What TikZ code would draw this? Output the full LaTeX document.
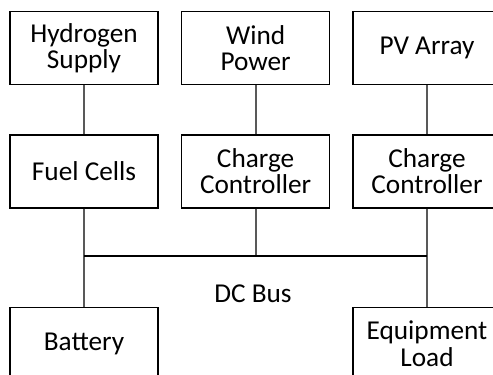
\documentclass[tikz,border=0pt]{standalone}
\usepackage{fontspec}
\setmainfont{Carlito}
\usetikzlibrary{positioning}

\begin{document}
\begin{tikzpicture}[
    block/.style={draw, line width=0.8pt, minimum width=3.7cm, minimum height=1.825cm,
                  inner sep=0pt, align=center, font=\fontsize{19.4}{18.6}\selectfont},
    link/.style={line width=1.3pt, black!65},
    bus/.style={line width=1.1pt, black}
]

    % --- FRAME ---
    \useasboundingbox (0,0) rectangle (12.325,-9.35);
    \clip (0,0) rectangle (12.325,-9.35);

    % --- SOURCES ---
    \node[block] (H2) at (2.1, -1.21) {Hydrogen\\Supply};
    \node[block] (Wind) at (6.39, -1.21) {Wind\\Power};
    \node[block] (PV) at (10.675, -1.21) {PV Array};

    % --- CONVERTERS ---
    \node[block, below=1.225cm of H2] (FC) {Fuel Cells};
    \node[block, below=1.225cm of Wind] (CCW) {Charge\\Controller};
    \node[block, below=1.225cm of PV] (CCP) {Charge\\Controller};

    % --- STORAGE AND LOAD ---
    \node[block, below=2.45cm of FC] (Bat) {Battery};
    \node[block, below=2.45cm of CCP] (Load) {Equipment\\Load};

    % --- DC BUS ---
    \coordinate (busL) at (FC.south |- 0,-6.4);
    \coordinate (busM) at (CCW.south |- 0,-6.4);
    \coordinate (busR) at (CCP.south |- 0,-6.4);
    \node[font=\fontsize{19.4}{18.6}\selectfont] (busname) at (6.325, -7.35) {DC Bus};

    % --- CONNECTIONS ---
    \draw[link] (H2) -- (FC);
    \draw[link] (Wind) -- (CCW);
    \draw[link] (PV) -- (CCP);
    \draw[link] (FC) -- (Bat);
    \draw[link] (CCW) -- (busM);
    \draw[link] (CCP) -- (Load);
    \draw[bus] (busL) -- (busR);

\end{tikzpicture}
\end{document}
